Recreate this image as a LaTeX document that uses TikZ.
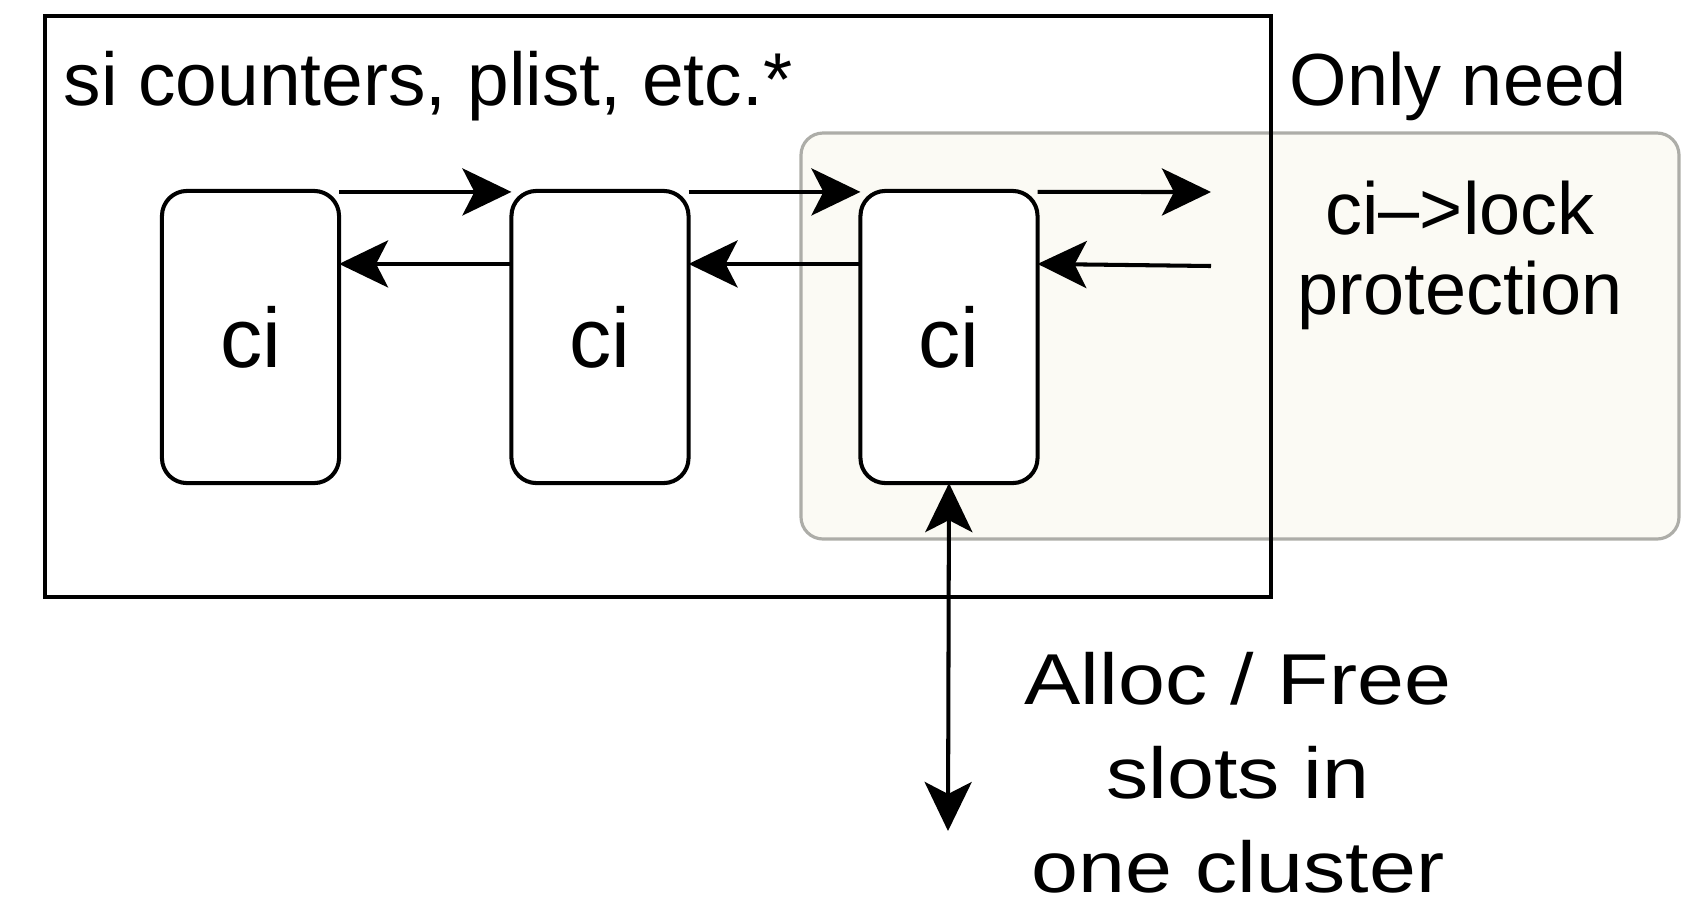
\documentclass[tikz,border=0pt]{standalone}
\usepackage{fontspec}
\setmainfont{Liberation Sans}
\newfontfamily\widesans[FakeStretch=1.17]{Liberation Sans}
\usetikzlibrary{arrows.meta,calc}
\definecolor{lockfill}{HTML}{FBFAF4}
\definecolor{lockedge}{HTML}{ADADA8}
\tikzset{
	cibox/.style={draw, line width=1.15pt, fill=white, rounded corners=0.25cm, minimum width=1.77cm, minimum height=2.92cm, inner sep=0pt, outer sep=0pt, font=\fontsize{24}{28}\selectfont},
	link/.style={line width=1.15pt},
	textlbl/.style={inner sep=0pt, font=\fontsize{21}{22.8}\selectfont},
}

\begin{document}
\begin{tikzpicture}[x=0.01cm, y=-0.01cm, >={Stealth[length=0.49cm, width=0.47cm, inset=0.12cm]}]
			%%%%% START %%%%%
			\useasboundingbox (0, 0) rectangle (1696, 908);
			
			% region that only needs the lock
			\draw[lockedge, fill=lockfill, line width=0.9pt, rounded corners=0.22cm] (801, 133) rectangle (1679, 539);
			
			% cluster info list
			\draw[line width=1.4pt] (45, 16) rectangle (1271, 597);
			\node[textlbl, font=\fontsize{21.3}{23}\selectfont, anchor=base west] (si) at (63, 105) {si counters, plist, etc.*};
			
			\node[cibox] (ci1) at (250.5, 337) {ci};
			\node[cibox] (ci2) at (600, 337) {ci};
			\node[cibox] (ci3) at (949, 337) {ci};
			
			\coordinate (nextout) at (1211, 192);
			\coordinate (nextin) at (1211, 266);
			\coordinate (slots) at (948, 831);
			
			\draw[link, ->] ($(ci1.north east)+(0, 1)$) -- ($(ci2.north west)+(0, 1)$);
			\draw[link, ->] ($(ci2.north east)+(0, 1)$) -- ($(ci3.north west)+(0, 1)$);
			\draw[link, ->] ($(ci3.north east)+(0, 1)$) -- (nextout);
			
			\draw[link, ->] ($(ci2.north west)+(0, 73)$) -- ($(ci1.north east)+(0, 73)$);
			\draw[link, ->] ($(ci3.north west)+(0, 73)$) -- ($(ci2.north east)+(0, 73)$);
			\draw[link, ->] (nextin) -- ($(ci3.north east)+(0, 73)$);
			
			\draw[link, <->] (ci3.south) -- (slots);
			
			% side notes
			\node[textlbl, anchor=base] (need) at (1458, 105) {Only need};
			\node[textlbl, align=center] (lock) at (1460, 255) {ci–>lock\\protection};
			\node[textlbl, font=\widesans\fontsize{20.5}{26.7}\selectfont, align=center, anchor=north] (alloc) at (1238, 652) {Alloc / Free\\slots in\\one cluster};
			%%%%% END %%%%%
\end{tikzpicture}
\end{document}
